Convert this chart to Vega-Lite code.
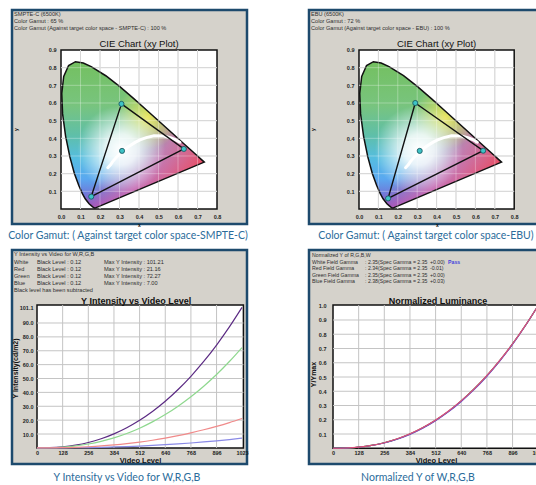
{
  "$schema": "https://vega.github.io/schema/vega-lite/v6.json",
  "background": "white",
  "padding": {"left": 6, "top": 8, "right": 0, "bottom": 0},
  "columns": 2,
  "spacing": {"row": 26, "column": 62},
  "bounds": "flush",
  "resolve": {"scale": {"color": "independent"}},
  "config": {
    "view": {"fill": "#d5d2cb", "stroke": "#1d4a6d", "strokeWidth": 2.5},
    "axis": {"grid": false, "ticks": false, "domain": false, "labelOverlap": false, "labelFont": "Liberation Sans", "labelFontSize": 5.5, "labelFontWeight": "bold", "labelColor": "#222222", "labelFlush": false, "titleFont": "Liberation Sans", "titleFontWeight": "bold", "titleColor": "#111111", "titleFontSize": 7},
    "text": {"font": "Liberation Sans"}
  },
  "datasets": {
    "plots": [
      {"id": "cie", "x0": 0, "x1": 0.8, "y0": 0, "y1": 0.9},
      {"id": "int", "x0": 0, "x1": 1030, "y0": 0, "y1": 103},
      {"id": "norm", "x0": 0, "x1": 1035, "y0": 0, "y1": 1.005}
    ],
    "notes": [
      {"id": "t1", "t": "CIE Chart (xy Plot)"},
      {"id": "h1", "t": ["SMPTE-C (6500K)", "Color Gamut :  65 %", "Color Gamut (Against target color space - SMPTE-C) : 100 %"]},
      {"id": "c1", "t": "Color Gamut: ( Against target color space-SMPTE-C)"},
      {"id": "h2", "t": ["EBU (6500K)", "Color Gamut :  72 %", "Color Gamut (Against target color space - EBU) : 100 %"]},
      {"id": "c2", "t": "Color Gamut: ( Against target color space-EBU)"},
      {"id": "t3", "t": "Y Intensity vs Video Level"},
      {"id": "h3a", "t": ["Y Intensity vs Video for W,R,G,B", "White", "Red", "Green", "Blue", "Black level has been subtracted"]},
      {"id": "h3b", "t": ["Black Level : 0.12", "Black Level : 0.12", "Black Level : 0.12", "Black Level : 0.12"]},
      {"id": "h3c", "t": ["Max Y Intensity : 101.21", "Max Y Intensity : 21.16", "Max Y Intensity : 72.27", "Max Y Intensity : 7.00"]},
      {"id": "c3", "t": "Y Intensity vs Video for W,R,G,B"},
      {"id": "t4", "t": "Normalized Luminance"},
      {"id": "h4a", "t": ["Normalized Y of R,G,B,W", "White Field Gamma", "Red Field Gamma", "Green Field Gamma", "Blue Field Gamma"]},
      {"id": "h4b", "t": [": 2.35", ": 2.34", ": 2.35", ": 2.38"]},
      {"id": "h4c", "t": ["(Spec Gamma = 2.35", "(Spec Gamma = 2.35", "(Spec Gamma = 2.35", "(Spec Gamma = 2.35"]},
      {"id": "h4d", "t": ["+0.00)", "-0.01)", "+0.00)", "+0.03)"]},
      {"id": "h4e", "t": "Pass"},
      {"id": "c4", "t": "Normalized Y of W,R,G,B"}
    ],
    "locus": [
      {"i": 0, "x": 0.1741, "y": 0.0050},
      {"i": 1, "x": 0.1714, "y": 0.0051},
      {"i": 2, "x": 0.1644, "y": 0.0109},
      {"i": 3, "x": 0.1566, "y": 0.0177},
      {"i": 4, "x": 0.1440, "y": 0.0297},
      {"i": 5, "x": 0.1241, "y": 0.0578},
      {"i": 6, "x": 0.1096, "y": 0.0868},
      {"i": 7, "x": 0.0913, "y": 0.1327},
      {"i": 8, "x": 0.0687, "y": 0.2007},
      {"i": 9, "x": 0.0454, "y": 0.2950},
      {"i": 10, "x": 0.0235, "y": 0.4127},
      {"i": 11, "x": 0.0082, "y": 0.5384},
      {"i": 12, "x": 0.0039, "y": 0.6548},
      {"i": 13, "x": 0.0139, "y": 0.7502},
      {"i": 14, "x": 0.0389, "y": 0.8120},
      {"i": 15, "x": 0.0743, "y": 0.8338},
      {"i": 16, "x": 0.1142, "y": 0.8262},
      {"i": 17, "x": 0.1547, "y": 0.8059},
      {"i": 18, "x": 0.2296, "y": 0.7543},
      {"i": 19, "x": 0.3016, "y": 0.6923},
      {"i": 20, "x": 0.3731, "y": 0.6245},
      {"i": 21, "x": 0.4441, "y": 0.5547},
      {"i": 22, "x": 0.5125, "y": 0.4866},
      {"i": 23, "x": 0.5752, "y": 0.4242},
      {"i": 24, "x": 0.6270, "y": 0.3725},
      {"i": 25, "x": 0.6658, "y": 0.3340},
      {"i": 26, "x": 0.6915, "y": 0.3083},
      {"i": 27, "x": 0.7190, "y": 0.2809},
      {"i": 28, "x": 0.7347, "y": 0.2653},
      {"i": 29, "x": 0.1741, "y": 0.0050}
    ],
    "planck": [
      {"i": 0, "x": 0.240, "y": 0.234},
      {"i": 1, "x": 0.255, "y": 0.252},
      {"i": 2, "x": 0.264, "y": 0.267},
      {"i": 3, "x": 0.281, "y": 0.288},
      {"i": 4, "x": 0.295, "y": 0.305},
      {"i": 5, "x": 0.314, "y": 0.324},
      {"i": 6, "x": 0.345, "y": 0.352},
      {"i": 7, "x": 0.380, "y": 0.377},
      {"i": 8, "x": 0.405, "y": 0.391},
      {"i": 9, "x": 0.437, "y": 0.404},
      {"i": 10, "x": 0.477, "y": 0.414},
      {"i": 11, "x": 0.527, "y": 0.413},
      {"i": 12, "x": 0.565, "y": 0.402},
      {"i": 13, "x": 0.586, "y": 0.393},
      {"i": 14, "x": 0.610, "y": 0.378}
    ],
    "smpte": [
      {"i": 0, "x": 0.310, "y": 0.595},
      {"i": 1, "x": 0.630, "y": 0.340},
      {"i": 2, "x": 0.155, "y": 0.070},
      {"i": 3, "x": 0.310, "y": 0.595}
    ],
    "smpte_pts": [
      {"x": 0.310, "y": 0.595},
      {"x": 0.630, "y": 0.340},
      {"x": 0.155, "y": 0.070},
      {"x": 0.313, "y": 0.329}
    ],
    "ebu": [
      {"i": 0, "x": 0.290, "y": 0.600},
      {"i": 1, "x": 0.640, "y": 0.330},
      {"i": 2, "x": 0.150, "y": 0.060},
      {"i": 3, "x": 0.290, "y": 0.600}
    ],
    "ebu_pts": [
      {"x": 0.290, "y": 0.600},
      {"x": 0.640, "y": 0.330},
      {"x": 0.150, "y": 0.060},
      {"x": 0.313, "y": 0.329}
    ],
    "cie_gx": [{"v": 0.1}, {"v": 0.2}, {"v": 0.3}, {"v": 0.4}, {"v": 0.5}, {"v": 0.6}, {"v": 0.7}],
    "cie_gy": [{"v": 0.1}, {"v": 0.2}, {"v": 0.3}, {"v": 0.4}, {"v": 0.5}, {"v": 0.6}, {"v": 0.7}, {"v": 0.8}],
    "vid_gx": [{"v": 128}, {"v": 256}, {"v": 384}, {"v": 512}, {"v": 640}, {"v": 768}, {"v": 896}],
    "int_gy": [{"v": 10}, {"v": 20}, {"v": 30}, {"v": 40}, {"v": 50}, {"v": 60}, {"v": 70}, {"v": 80}, {"v": 90}],
    "norm_gy": [{"v": 0.1}, {"v": 0.2}, {"v": 0.3}, {"v": 0.4}, {"v": 0.5}, {"v": 0.6}, {"v": 0.7}, {"v": 0.8}, {"v": 0.9}],
    "curves": [
      {"v": 0, "ch": "W", "y": 0, "n": 0},
      {"v": 64, "ch": "W", "y": 0.15, "n": 0.001},
      {"v": 128, "ch": "W", "y": 0.77, "n": 0.008},
      {"v": 192, "ch": "W", "y": 1.99, "n": 0.020},
      {"v": 256, "ch": "W", "y": 3.90, "n": 0.039},
      {"v": 320, "ch": "W", "y": 6.59, "n": 0.065},
      {"v": 384, "ch": "W", "y": 10.12, "n": 0.100},
      {"v": 448, "ch": "W", "y": 14.54, "n": 0.144},
      {"v": 512, "ch": "W", "y": 19.89, "n": 0.197},
      {"v": 576, "ch": "W", "y": 26.24, "n": 0.259},
      {"v": 640, "ch": "W", "y": 33.62, "n": 0.332},
      {"v": 704, "ch": "W", "y": 42.06, "n": 0.416},
      {"v": 768, "ch": "W", "y": 51.60, "n": 0.510},
      {"v": 832, "ch": "W", "y": 62.27, "n": 0.615},
      {"v": 896, "ch": "W", "y": 74.11, "n": 0.732},
      {"v": 960, "ch": "W", "y": 87.16, "n": 0.861},
      {"v": 1023, "ch": "W", "y": 101.21, "n": 1},
      {"v": 0, "ch": "G", "y": 0, "n": 0},
      {"v": 64, "ch": "G", "y": 0.11, "n": 0.001},
      {"v": 128, "ch": "G", "y": 0.55, "n": 0.008},
      {"v": 192, "ch": "G", "y": 1.42, "n": 0.020},
      {"v": 256, "ch": "G", "y": 2.79, "n": 0.039},
      {"v": 320, "ch": "G", "y": 4.71, "n": 0.065},
      {"v": 384, "ch": "G", "y": 7.23, "n": 0.100},
      {"v": 448, "ch": "G", "y": 10.38, "n": 0.144},
      {"v": 512, "ch": "G", "y": 14.21, "n": 0.197},
      {"v": 576, "ch": "G", "y": 18.74, "n": 0.259},
      {"v": 640, "ch": "G", "y": 24.00, "n": 0.332},
      {"v": 704, "ch": "G", "y": 30.03, "n": 0.416},
      {"v": 768, "ch": "G", "y": 36.85, "n": 0.510},
      {"v": 832, "ch": "G", "y": 44.47, "n": 0.615},
      {"v": 896, "ch": "G", "y": 52.92, "n": 0.732},
      {"v": 960, "ch": "G", "y": 62.24, "n": 0.861},
      {"v": 1023, "ch": "G", "y": 72.27, "n": 1},
      {"v": 0, "ch": "B", "y": 0, "n": 0},
      {"v": 64, "ch": "B", "y": 0.01, "n": 0.001},
      {"v": 128, "ch": "B", "y": 0.05, "n": 0.007},
      {"v": 192, "ch": "B", "y": 0.13, "n": 0.019},
      {"v": 256, "ch": "B", "y": 0.26, "n": 0.037},
      {"v": 320, "ch": "B", "y": 0.44, "n": 0.063},
      {"v": 384, "ch": "B", "y": 0.68, "n": 0.097},
      {"v": 448, "ch": "B", "y": 0.98, "n": 0.140},
      {"v": 512, "ch": "B", "y": 1.35, "n": 0.193},
      {"v": 576, "ch": "B", "y": 1.78, "n": 0.255},
      {"v": 640, "ch": "B", "y": 2.29, "n": 0.328},
      {"v": 704, "ch": "B", "y": 2.88, "n": 0.411},
      {"v": 768, "ch": "B", "y": 3.54, "n": 0.505},
      {"v": 832, "ch": "B", "y": 4.28, "n": 0.611},
      {"v": 896, "ch": "B", "y": 5.11, "n": 0.729},
      {"v": 960, "ch": "B", "y": 6.02, "n": 0.860},
      {"v": 1023, "ch": "B", "y": 7.00, "n": 1},
      {"v": 0, "ch": "R", "y": 0, "n": 0},
      {"v": 64, "ch": "R", "y": 0.03, "n": 0.002},
      {"v": 128, "ch": "R", "y": 0.16, "n": 0.008},
      {"v": 192, "ch": "R", "y": 0.42, "n": 0.020},
      {"v": 256, "ch": "R", "y": 0.83, "n": 0.039},
      {"v": 320, "ch": "R", "y": 1.39, "n": 0.066},
      {"v": 384, "ch": "R", "y": 2.14, "n": 0.101},
      {"v": 448, "ch": "R", "y": 3.07, "n": 0.145},
      {"v": 512, "ch": "R", "y": 4.19, "n": 0.198},
      {"v": 576, "ch": "R", "y": 5.52, "n": 0.261},
      {"v": 640, "ch": "R", "y": 7.06, "n": 0.334},
      {"v": 704, "ch": "R", "y": 8.83, "n": 0.417},
      {"v": 768, "ch": "R", "y": 10.82, "n": 0.511},
      {"v": 832, "ch": "R", "y": 13.05, "n": 0.617},
      {"v": 896, "ch": "R", "y": 15.52, "n": 0.733},
      {"v": 960, "ch": "R", "y": 18.23, "n": 0.862},
      {"v": 1023, "ch": "R", "y": 21.16, "n": 1}
    ]
  },
  "concat": [
    {
      "width": 235, "height": 214,
      "layer": [
        {"data": {"name": "plots"}, "transform": [{"filter": "datum.id === 'cie'"}],
         "mark": {"type": "rect", "fill": "white", "stroke": "#111111", "strokeWidth": 1.5},
         "encoding": {
           "x": {"field": "x0", "type": "quantitative", "scale": {"domain": [-0.2513, 0.9538], "nice": false, "zero": false},
                 "axis": {"values": [0, 0.1, 0.2, 0.3, 0.4, 0.5, 0.6, 0.7, 0.8], "tickCount": 30, "labelOverlap": false, "format": ".1f", "offset": -15, "labelPadding": 5, "title": "x", "titleFontSize": 5, "titlePadding": 3, "titleX": 127}},
           "x2": {"field": "x1"},
           "y": {"field": "y0", "type": "quantitative", "scale": {"domain": [-0.0849, 1.1264], "nice": false, "zero": false},
                 "axis": {"values": [0.1, 0.2, 0.3, 0.4, 0.5, 0.6, 0.7, 0.8, 0.9], "tickCount": 30, "labelOverlap": false, "format": ".1f", "offset": -49, "labelPadding": 5, "title": "y", "titleFontSize": 5, "titlePadding": 30, "titleY": 119}},
           "y2": {"field": "y1"}
         }},
        {"data": {"name": "cie_gx"}, "mark": {"type": "rule", "color": "#c4c4c4", "strokeWidth": 1},
         "encoding": {"x": {"field": "v", "type": "quantitative"}, "y": {"datum": 0}, "y2": {"datum": 0.9}}},
        {"data": {"name": "cie_gy"}, "mark": {"type": "rule", "color": "#c4c4c4", "strokeWidth": 1},
         "encoding": {"y": {"field": "v", "type": "quantitative"}, "x": {"datum": 0}, "x2": {"datum": 0.8}}},
        {"data": {"name": "locus"},
         "mark": {"type": "line", "strokeOpacity": 0, "fill": {"gradient": "linear", "x1": 0, "y1": 0, "x2": 0, "y2": 1, "stops": [{"offset": 0, "color": "#74c060"}, {"offset": 0.3, "color": "#78c47e"}, {"offset": 0.5, "color": "#5fbfa8"}, {"offset": 0.66, "color": "#55bde0"}, {"offset": 0.8, "color": "#5aa8f0"}, {"offset": 0.92, "color": "#7272d6"}, {"offset": 1, "color": "#8a4fc2"}]}},
         "encoding": {"x": {"field": "x", "type": "quantitative"}, "y": {"field": "y", "type": "quantitative"}, "order": {"field": "i"}}},
        {"data": {"name": "locus"},
         "mark": {"type": "line", "strokeOpacity": 0, "fill": {"gradient": "linear", "x1": 0.35, "y1": 0.25, "x2": 0.95, "y2": 0.75, "stops": [{"offset": 0, "color": "rgba(240,100,150,0)"}, {"offset": 0.35, "color": "rgba(240,100,150,0)"}, {"offset": 0.65, "color": "rgba(236,100,165,0.7)"}, {"offset": 1, "color": "rgba(240,72,92,0.95)"}]}},
         "encoding": {"x": {"field": "x", "type": "quantitative"}, "y": {"field": "y", "type": "quantitative"}, "order": {"field": "i"}}},
        {"data": {"name": "locus"},
         "mark": {"type": "line", "strokeOpacity": 0, "fill": {"gradient": "radial", "x1": 0.6, "y1": 0.38, "r1": 0, "x2": 0.6, "y2": 0.38, "r2": 0.22, "stops": [{"offset": 0, "color": "rgba(248,232,90,0.9)"}, {"offset": 1, "color": "rgba(248,232,90,0)"}]}},
         "encoding": {"x": {"field": "x", "type": "quantitative"}, "y": {"field": "y", "type": "quantitative"}, "order": {"field": "i"}}},
        {"data": {"name": "locus"},
         "mark": {"type": "line", "stroke": "#111111", "strokeWidth": 1.5, "fill": {"gradient": "radial", "x1": 0.42, "y1": 0.6, "r1": 0, "x2": 0.42, "y2": 0.6, "r2": 0.3, "stops": [{"offset": 0, "color": "rgba(255,255,255,1)"}, {"offset": 0.35, "color": "rgba(255,255,255,0.85)"}, {"offset": 1, "color": "rgba(255,255,255,0)"}]}},
         "encoding": {"x": {"field": "x", "type": "quantitative"}, "y": {"field": "y", "type": "quantitative"}, "order": {"field": "i"}}},
        {"data": {"name": "cie_gx"}, "mark": {"type": "rule", "color": "#ffffff", "opacity": 0.3, "strokeWidth": 1},
         "encoding": {"x": {"field": "v", "type": "quantitative"}, "y": {"datum": 0}, "y2": {"datum": 0.9}}},
        {"data": {"name": "cie_gy"}, "mark": {"type": "rule", "color": "#ffffff", "opacity": 0.3, "strokeWidth": 1},
         "encoding": {"y": {"field": "v", "type": "quantitative"}, "x": {"datum": 0}, "x2": {"datum": 0.8}}},
        {"data": {"name": "planck"}, "mark": {"type": "line", "stroke": "white", "strokeWidth": 3, "strokeCap": "round"},
         "encoding": {"x": {"field": "x", "type": "quantitative"}, "y": {"field": "y", "type": "quantitative"}, "order": {"field": "i"}}},
        {"data": {"name": "smpte"}, "mark": {"type": "line", "stroke": "#111111", "strokeWidth": 1.4},
         "encoding": {"x": {"field": "x", "type": "quantitative"}, "y": {"field": "y", "type": "quantitative"}, "order": {"field": "i"}}},
        {"data": {"name": "smpte_pts"}, "mark": {"type": "circle", "size": 26, "fill": "#3ec3c6", "stroke": "#15505a", "strokeWidth": 0.8, "opacity": 1},
         "encoding": {"x": {"field": "x", "type": "quantitative"}, "y": {"field": "y", "type": "quantitative"}}},
        {"data": {"name": "notes"}, "transform": [{"filter": "datum.id === 't1'"}],
         "mark": {"type": "text", "align": "center", "baseline": "middle", "fontSize": 9.5, "color": "#111111"},
         "encoding": {"x": {"datum": 0.4}, "y": {"datum": 0.934}, "text": {"field": "t", "type": "nominal"}}},
        {"data": {"name": "notes"}, "transform": [{"filter": "datum.id === 'h1'"}],
         "mark": {"type": "text", "align": "left", "baseline": "top", "fontSize": 5.6, "lineHeight": 7, "color": "#2e2e2e"},
         "encoding": {"x": {"datum": -0.241}, "y": {"datum": 1.115}, "text": {"field": "t", "type": "nominal"}}},
        {"data": {"name": "notes"}, "transform": [{"filter": "datum.id === 'c1'"}],
         "mark": {"type": "text", "align": "center", "baseline": "middle", "font": "Lato", "fontSize": 10.5, "color": "#2b6c9b"},
         "encoding": {"x": {"datum": 0.3436}, "y": {"datum": -0.1528}, "text": {"field": "t", "type": "nominal"}}}
      ]
    },
    {
      "width": 235, "height": 214,
      "layer": [
        {"data": {"name": "plots"}, "transform": [{"filter": "datum.id === 'cie'"}],
         "mark": {"type": "rect", "fill": "white", "stroke": "#111111", "strokeWidth": 1.5},
         "encoding": {
           "x": {"field": "x0", "type": "quantitative", "scale": {"domain": [-0.2577, 0.9536], "nice": false, "zero": false},
                 "axis": {"values": [0, 0.1, 0.2, 0.3, 0.4, 0.5, 0.6, 0.7, 0.8], "tickCount": 30, "labelOverlap": false, "format": ".1f", "offset": -15, "labelPadding": 5, "title": "x", "titleFontSize": 5, "titlePadding": 3, "titleX": 128}},
           "x2": {"field": "x1"},
           "y": {"field": "y0", "type": "quantitative", "scale": {"domain": [-0.0849, 1.1264], "nice": false, "zero": false},
                 "axis": {"values": [0.1, 0.2, 0.3, 0.4, 0.5, 0.6, 0.7, 0.8, 0.9], "tickCount": 30, "labelOverlap": false, "format": ".1f", "offset": -50, "labelPadding": 5, "title": "y", "titleFontSize": 5, "titlePadding": 31, "titleY": 119}},
           "y2": {"field": "y1"}
         }},
        {"data": {"name": "cie_gx"}, "mark": {"type": "rule", "color": "#c4c4c4", "strokeWidth": 1},
         "encoding": {"x": {"field": "v", "type": "quantitative"}, "y": {"datum": 0}, "y2": {"datum": 0.9}}},
        {"data": {"name": "cie_gy"}, "mark": {"type": "rule", "color": "#c4c4c4", "strokeWidth": 1},
         "encoding": {"y": {"field": "v", "type": "quantitative"}, "x": {"datum": 0}, "x2": {"datum": 0.8}}},
        {"data": {"name": "locus"},
         "mark": {"type": "line", "strokeOpacity": 0, "fill": {"gradient": "linear", "x1": 0, "y1": 0, "x2": 0, "y2": 1, "stops": [{"offset": 0, "color": "#74c060"}, {"offset": 0.3, "color": "#78c47e"}, {"offset": 0.5, "color": "#5fbfa8"}, {"offset": 0.66, "color": "#55bde0"}, {"offset": 0.8, "color": "#5aa8f0"}, {"offset": 0.92, "color": "#7272d6"}, {"offset": 1, "color": "#8a4fc2"}]}},
         "encoding": {"x": {"field": "x", "type": "quantitative"}, "y": {"field": "y", "type": "quantitative"}, "order": {"field": "i"}}},
        {"data": {"name": "locus"},
         "mark": {"type": "line", "strokeOpacity": 0, "fill": {"gradient": "linear", "x1": 0.35, "y1": 0.25, "x2": 0.95, "y2": 0.75, "stops": [{"offset": 0, "color": "rgba(240,100,150,0)"}, {"offset": 0.35, "color": "rgba(240,100,150,0)"}, {"offset": 0.65, "color": "rgba(236,100,165,0.7)"}, {"offset": 1, "color": "rgba(240,72,92,0.95)"}]}},
         "encoding": {"x": {"field": "x", "type": "quantitative"}, "y": {"field": "y", "type": "quantitative"}, "order": {"field": "i"}}},
        {"data": {"name": "locus"},
         "mark": {"type": "line", "strokeOpacity": 0, "fill": {"gradient": "radial", "x1": 0.6, "y1": 0.38, "r1": 0, "x2": 0.6, "y2": 0.38, "r2": 0.22, "stops": [{"offset": 0, "color": "rgba(248,232,90,0.9)"}, {"offset": 1, "color": "rgba(248,232,90,0)"}]}},
         "encoding": {"x": {"field": "x", "type": "quantitative"}, "y": {"field": "y", "type": "quantitative"}, "order": {"field": "i"}}},
        {"data": {"name": "locus"},
         "mark": {"type": "line", "stroke": "#111111", "strokeWidth": 1.5, "fill": {"gradient": "radial", "x1": 0.42, "y1": 0.6, "r1": 0, "x2": 0.42, "y2": 0.6, "r2": 0.3, "stops": [{"offset": 0, "color": "rgba(255,255,255,1)"}, {"offset": 0.35, "color": "rgba(255,255,255,0.85)"}, {"offset": 1, "color": "rgba(255,255,255,0)"}]}},
         "encoding": {"x": {"field": "x", "type": "quantitative"}, "y": {"field": "y", "type": "quantitative"}, "order": {"field": "i"}}},
        {"data": {"name": "cie_gx"}, "mark": {"type": "rule", "color": "#ffffff", "opacity": 0.3, "strokeWidth": 1},
         "encoding": {"x": {"field": "v", "type": "quantitative"}, "y": {"datum": 0}, "y2": {"datum": 0.9}}},
        {"data": {"name": "cie_gy"}, "mark": {"type": "rule", "color": "#ffffff", "opacity": 0.3, "strokeWidth": 1},
         "encoding": {"y": {"field": "v", "type": "quantitative"}, "x": {"datum": 0}, "x2": {"datum": 0.8}}},
        {"data": {"name": "planck"}, "mark": {"type": "line", "stroke": "white", "strokeWidth": 3, "strokeCap": "round"},
         "encoding": {"x": {"field": "x", "type": "quantitative"}, "y": {"field": "y", "type": "quantitative"}, "order": {"field": "i"}}},
        {"data": {"name": "ebu"}, "mark": {"type": "line", "stroke": "#111111", "strokeWidth": 1.4},
         "encoding": {"x": {"field": "x", "type": "quantitative"}, "y": {"field": "y", "type": "quantitative"}, "order": {"field": "i"}}},
        {"data": {"name": "ebu_pts"}, "mark": {"type": "circle", "size": 26, "fill": "#3ec3c6", "stroke": "#15505a", "strokeWidth": 0.8, "opacity": 1},
         "encoding": {"x": {"field": "x", "type": "quantitative"}, "y": {"field": "y", "type": "quantitative"}}},
        {"data": {"name": "notes"}, "transform": [{"filter": "datum.id === 't1'"}],
         "mark": {"type": "text", "align": "center", "baseline": "middle", "fontSize": 9.5, "color": "#111111"},
         "encoding": {"x": {"datum": 0.4}, "y": {"datum": 0.934}, "text": {"field": "t", "type": "nominal"}}},
        {"data": {"name": "notes"}, "transform": [{"filter": "datum.id === 'h2'"}],
         "mark": {"type": "text", "align": "left", "baseline": "top", "fontSize": 5.6, "lineHeight": 7, "color": "#2e2e2e"},
         "encoding": {"x": {"datum": -0.2474}, "y": {"datum": 1.115}, "text": {"field": "t", "type": "nominal"}}},
        {"data": {"name": "notes"}, "transform": [{"filter": "datum.id === 'c2'"}],
         "mark": {"type": "text", "align": "center", "baseline": "middle", "font": "Lato", "fontSize": 10.5, "color": "#2b6c9b"},
         "encoding": {"x": {"datum": 0.345}, "y": {"datum": -0.1528}, "text": {"field": "t", "type": "nominal"}}}
      ]
    },
    {
      "width": 235, "height": 214,
      "layer": [
        {"data": {"name": "plots"}, "transform": [{"filter": "datum.id === 'int'"}],
         "mark": {"type": "rect", "fill": "white", "stroke": "#111111", "strokeWidth": 1.5},
         "encoding": {
           "x": {"field": "x0", "type": "quantitative", "scale": {"domain": [-124.75, 1047.9], "nice": false, "zero": false},
                 "axis": {"values": [0, 128, 256, 384, 512, 640, 768, 896, 1023], "tickCount": 30, "labelOverlap": false, "format": "d", "offset": -16, "labelPadding": 2, "title": "Video Level", "titleFontSize": 7.5, "titlePadding": 1, "titleX": 128}},
           "x2": {"field": "x1"},
           "y": {"field": "y0", "type": "quantitative", "scale": {"domain": [-11.6, 142.6], "nice": false, "zero": false},
                 "axis": {"values": [10, 20, 30, 40, 50, 60, 70, 80, 90, 101.1], "tickCount": 30, "labelOverlap": false, "format": ".1f", "offset": -25, "labelPadding": 4, "title": "Y Intensity(cd/m2)", "titleFontSize": 7, "titlePadding": 1, "titleY": 118}},
           "y2": {"field": "y1"}
         }},
        {"data": {"name": "vid_gx"}, "mark": {"type": "rule", "color": "#c4c4c4", "strokeWidth": 1},
         "encoding": {"x": {"field": "v", "type": "quantitative"}, "y": {"datum": 0}, "y2": {"datum": 103}}},
        {"data": {"name": "int_gy"}, "mark": {"type": "rule", "color": "#c4c4c4", "strokeWidth": 1},
         "encoding": {"y": {"field": "v", "type": "quantitative"}, "x": {"datum": 0}, "x2": {"datum": 1030}}},
        {"data": {"name": "curves"}, "mark": {"type": "line", "strokeWidth": 1.2, "interpolate": "monotone"},
         "encoding": {"x": {"field": "v", "type": "quantitative"}, "y": {"field": "y", "type": "quantitative"},
                      "color": {"field": "ch", "type": "nominal", "scale": {"domain": ["W", "G", "B", "R"], "range": ["#5b2a83", "#8ed88e", "#8a8ae6", "#f08a8a"]}, "legend": null}}},
        {"data": {"name": "notes"}, "transform": [{"filter": "datum.id === 't3'"}],
         "mark": {"type": "text", "align": "center", "baseline": "middle", "fontSize": 9, "fontWeight": "bold", "color": "#111111"},
         "encoding": {"x": {"datum": 495}, "y": {"datum": 105.9}, "text": {"field": "t", "type": "nominal"}}},
        {"data": {"name": "notes"}, "transform": [{"filter": "datum.id === 'h3a'"}],
         "mark": {"type": "text", "align": "left", "baseline": "top", "fontSize": 5.6, "lineHeight": 7.1, "color": "#2e2e2e"},
         "encoding": {"x": {"datum": -114.8}, "y": {"datum": 140.8}, "text": {"field": "t", "type": "nominal"}}},
        {"data": {"name": "notes"}, "transform": [{"filter": "datum.id === 'h3b'"}],
         "mark": {"type": "text", "align": "left", "baseline": "top", "fontSize": 5.6, "lineHeight": 7.1, "color": "#2e2e2e"},
         "encoding": {"x": {"datum": 0}, "y": {"datum": 135.7}, "text": {"field": "t", "type": "nominal"}}},
        {"data": {"name": "notes"}, "transform": [{"filter": "datum.id === 'h3c'"}],
         "mark": {"type": "text", "align": "left", "baseline": "top", "fontSize": 5.6, "lineHeight": 7.1, "color": "#2e2e2e"},
         "encoding": {"x": {"datum": 334}, "y": {"datum": 135.7}, "text": {"field": "t", "type": "nominal"}}},
        {"data": {"name": "notes"}, "transform": [{"filter": "datum.id === 'c3'"}],
         "mark": {"type": "text", "align": "center", "baseline": "middle", "font": "Lato", "fontSize": 10.5, "color": "#2b6c9b"},
         "encoding": {"x": {"datum": 449}, "y": {"datum": -21.7}, "text": {"field": "t", "type": "nominal"}}}
      ]
    },
    {
      "width": 235, "height": 214,
      "layer": [
        {"data": {"name": "plots"}, "transform": [{"filter": "datum.id === 'norm'"}],
         "mark": {"type": "rect", "fill": "white", "stroke": "#111111", "strokeWidth": 1.5},
         "encoding": {
           "x": {"field": "x0", "type": "quantitative", "scale": {"domain": [-119.8, 1052.9], "nice": false, "zero": false},
                 "axis": {"values": [0, 128, 256, 384, 512, 640, 768, 896, 1023], "tickCount": 30, "labelOverlap": false, "format": "d", "offset": -16, "labelPadding": 2, "title": "Video Level", "titleFontSize": 7.5, "titlePadding": 1, "titleX": 127}},
           "x2": {"field": "x1"},
           "y": {"field": "y0", "type": "quantitative", "scale": {"domain": [-0.1105, 1.3912], "nice": false, "zero": false},
                 "axis": {"values": [0.1, 0.2, 0.3, 0.4, 0.5, 0.6, 0.7, 0.8, 0.9, 1.0], "tickCount": 30, "labelOverlap": false, "format": ".1f", "offset": -24, "labelPadding": 7, "title": "Y/Ymax", "titleFontSize": 7, "titlePadding": 2, "titleY": 124}},
           "y2": {"field": "y1"}
         }},
        {"data": {"name": "vid_gx"}, "mark": {"type": "rule", "color": "#c4c4c4", "strokeWidth": 1},
         "encoding": {"x": {"field": "v", "type": "quantitative"}, "y": {"datum": 0}, "y2": {"datum": 1.005}}},
        {"data": {"name": "norm_gy"}, "mark": {"type": "rule", "color": "#c4c4c4", "strokeWidth": 1},
         "encoding": {"y": {"field": "v", "type": "quantitative"}, "x": {"datum": 0}, "x2": {"datum": 1035}}},
        {"data": {"name": "curves"}, "mark": {"type": "line", "strokeWidth": 1.1, "interpolate": "monotone"},
         "encoding": {"x": {"field": "v", "type": "quantitative"}, "y": {"field": "n", "type": "quantitative"},
                      "color": {"field": "ch", "type": "nominal", "scale": {"domain": ["W", "G", "B", "R"], "range": ["#3a2a3a", "#4caf50", "#7050c8", "#e0507a"]}, "legend": null}}},
        {"data": {"name": "notes"}, "transform": [{"filter": "datum.id === 't4'"}],
         "mark": {"type": "text", "align": "center", "baseline": "middle", "fontSize": 9, "fontWeight": "bold", "color": "#111111"},
         "encoding": {"x": {"datum": 524}, "y": {"datum": 1.033}, "text": {"field": "t", "type": "nominal"}}},
        {"data": {"name": "notes"}, "transform": [{"filter": "datum.id === 'h4a'"}],
         "mark": {"type": "text", "align": "left", "baseline": "top", "fontSize": 5.2, "lineHeight": 6.6, "color": "#2e2e2e"},
         "encoding": {"x": {"datum": -104.8}, "y": {"datum": 1.37}, "text": {"field": "t", "type": "nominal"}}},
        {"data": {"name": "notes"}, "transform": [{"filter": "datum.id === 'h4b'"}],
         "mark": {"type": "text", "align": "left", "baseline": "top", "fontSize": 5.2, "lineHeight": 6.6, "color": "#2e2e2e"},
         "encoding": {"x": {"datum": 159.7}, "y": {"datum": 1.324}, "text": {"field": "t", "type": "nominal"}}},
        {"data": {"name": "notes"}, "transform": [{"filter": "datum.id === 'h4c'"}],
         "mark": {"type": "text", "align": "left", "baseline": "top", "fontSize": 5.2, "lineHeight": 6.6, "color": "#2e2e2e"},
         "encoding": {"x": {"datum": 224.6}, "y": {"datum": 1.324}, "text": {"field": "t", "type": "nominal"}}},
        {"data": {"name": "notes"}, "transform": [{"filter": "datum.id === 'h4d'"}],
         "mark": {"type": "text", "align": "left", "baseline": "top", "fontSize": 5.2, "lineHeight": 6.6, "color": "#2e2e2e"},
         "encoding": {"x": {"datum": 484}, "y": {"datum": 1.324}, "text": {"field": "t", "type": "nominal"}}},
        {"data": {"name": "notes"}, "transform": [{"filter": "datum.id === 'h4e'"}],
         "mark": {"type": "text", "align": "left", "baseline": "top", "fontSize": 5.2, "fontWeight": "bold", "color": "#4444dd"},
         "encoding": {"x": {"datum": 574}, "y": {"datum": 1.324}, "text": {"field": "t", "type": "nominal"}}},
        {"data": {"name": "notes"}, "transform": [{"filter": "datum.id === 'c4'"}],
         "mark": {"type": "text", "align": "center", "baseline": "middle", "font": "Lato", "fontSize": 10.5, "color": "#2b6c9b"},
         "encoding": {"x": {"datum": 424}, "y": {"datum": -0.2088}, "text": {"field": "t", "type": "nominal"}}}
      ]
    }
  ]
}
